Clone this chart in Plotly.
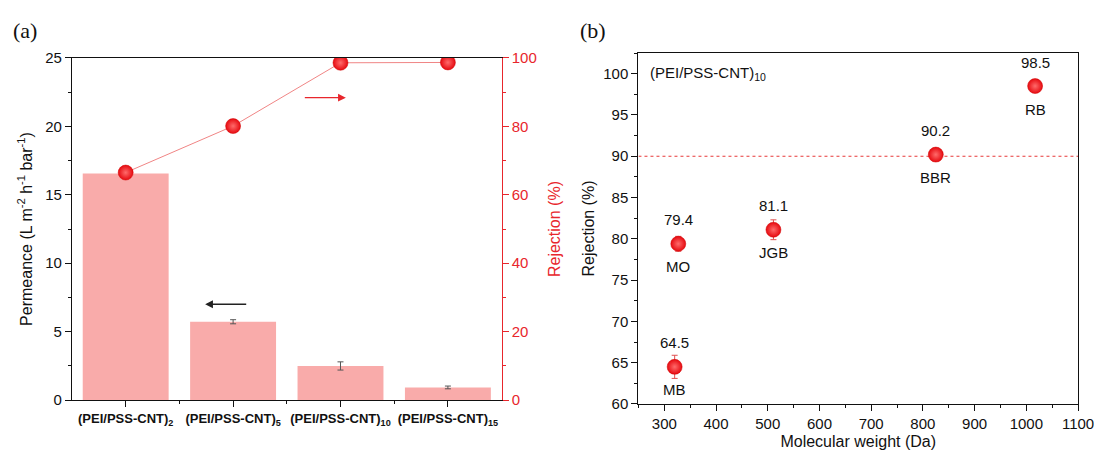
import plotly.graph_objects as go

# ---------------- data ----------------
layers = ["(PEI/PSS-CNT)<sub>2</sub>", "(PEI/PSS-CNT)<sub>5</sub>",
          "(PEI/PSS-CNT)<sub>10</sub>", "(PEI/PSS-CNT)<sub>15</sub>"]
permeance = [16.55, 5.72, 2.49, 0.92]
permeance_err = [0.35, 0.15, 0.3, 0.1]
rejection_a = [66.5, 80.1, 98.6, 98.7]
rejection_a_err = [0.8, 0.4, 0.4, 0.4]

dyes = ["MB", "MO", "JGB", "BBR", "RB"]
mol_weight = [320, 327, 511, 825, 1017]
rejection_b = [64.5, 79.4, 81.1, 90.2, 98.5]
rejection_b_err = [1.4, 0.9, 1.2, 0.5, 0.3]
threshold = 90

RED = "#E8262C"
FONT = "Liberation Sans, Arial, sans-serif"
idx = list(range(len(layers)))

marker_style = dict(size=15, color="#E60A10", line=dict(color="#D00000", width=0.5),
                    gradient=dict(type="radial", color="#FF6B6B"))

fig = go.Figure()

# ---------------- panel (a) ----------------
fig.add_trace(go.Bar(
    x=idx, y=permeance, width=0.8,
    marker=dict(color="#F9ABAA", line=dict(width=0)),
    error_y=dict(type="data", array=permeance_err, color="#555555",
                 thickness=1, width=3),
    xaxis="x", yaxis="y", showlegend=False))

fig.add_trace(go.Scatter(
    x=idx, y=rejection_a, mode="lines+markers",
    line=dict(color="#F08585", width=1),
    marker=marker_style,
    error_y=dict(type="data", array=rejection_a_err, color="#555555",
                 thickness=1, width=3),
    xaxis="x", yaxis="y2", showlegend=False))

# ---------------- panel (b) ----------------
fig.add_trace(go.Scatter(
    x=[250, 1100], y=[threshold, threshold], mode="lines",
    line=dict(color="#E83A3A", width=1.2, dash="dot"),
    xaxis="x2", yaxis="y3", showlegend=False, hoverinfo="skip"))

fig.add_trace(go.Scatter(
    x=mol_weight, y=rejection_b, mode="markers",
    marker=marker_style,
    error_y=dict(type="data", array=rejection_b_err, color="#E05050",
                 thickness=1, width=3),
    xaxis="x2", yaxis="y3", showlegend=False))

annotations = []
for mw, r, d in zip(mol_weight, rejection_b, dyes):
    annotations.append(dict(x=mw, y=r, xref="x2", yref="y3", text=f"{r:.1f}",
                            showarrow=False, yshift=24,
                            font=dict(family=FONT, size=15, color="#111")))
    annotations.append(dict(x=mw, y=r, xref="x2", yref="y3", text=d,
                            showarrow=False, yshift=-23,
                            font=dict(family=FONT, size=15, color="#111")))

# arrows in panel (a)
annotations.append(dict(x=2.05, y=22.1, ax=1.64, ay=22.1, xref="x", yref="y",
                        axref="x", ayref="y", showarrow=True, arrowhead=2,
                        arrowsize=1.2, arrowwidth=1.3, arrowcolor=RED, text=" "))
annotations.append(dict(x=0.74, y=7.0, ax=1.15, ay=7.0, xref="x", yref="y",
                        axref="x", ayref="y", showarrow=True, arrowhead=2,
                        arrowsize=1.2, arrowwidth=1.3, arrowcolor="#222", text=" "))

# panel labels and inner label
serif = dict(family="Liberation Serif, Times New Roman, serif", size=22, color="#111")
annotations.append(dict(x=0.0229, y=0.9336, xref="paper", yref="paper",
                        text="(a)", showarrow=False, xanchor="center",
                        yanchor="middle", font=serif))
annotations.append(dict(x=0.542, y=0.9336, xref="paper", yref="paper",
                        text="(b)", showarrow=False, xanchor="center",
                        yanchor="middle", font=serif))
annotations.append(dict(x=0.5923, y=0.8363, xref="paper", yref="paper",
                        text="(PEI/PSS-CNT)<sub>10</sub>", showarrow=False,
                        xanchor="left", yanchor="middle",
                        font=dict(family=FONT, size=15, color="#111")))

tickfont = dict(family=FONT, size=15, color="#111")

fig.update_layout(
    width=1094, height=452,
    margin=dict(l=0, r=0, t=0, b=0),
    paper_bgcolor="white", plot_bgcolor="white",
    annotations=annotations,
    bargap=0.2,
    xaxis=dict(domain=[0.0658, 0.4585], range=[-0.5, 3.5], automargin=False,
               tickvals=idx, tickangle=0,
               ticktext=[f"<b>{c}</b>" for c in layers],
               tickfont=dict(family=FONT, size=13, color="#111"),
               ticks="outside", ticklen=6, tickwidth=1.2, tickcolor="#111",
               minor=dict(tickvals=[0.5, 1.5, 2.5], ticks="outside", ticklen=3,
                          tickcolor="#111"),
               showline=True, linecolor="#111", linewidth=1.3, mirror=True,
               showgrid=False, zeroline=False, anchor="y"),
    yaxis=dict(domain=[0.115, 0.8717], range=[0, 25], dtick=5, automargin=False,
               tickfont=tickfont,
               ticks="outside", ticklen=6, tickwidth=1.2, tickcolor="#111",
               minor=dict(dtick=2.5, ticks="outside", ticklen=3, tickcolor="#111"),
               showline=True, linecolor="#111", linewidth=1.3,
               showgrid=False, zeroline=False, anchor="x",
               title=dict(text="Permeance (L m<sup>-2</sup> h<sup>-1</sup> bar<sup>-1</sup>)",
                          font=dict(family=FONT, size=16, color="#111"),
                          standoff=8)),
    yaxis2=dict(range=[0, 100], dtick=20, overlaying="y", side="right",
                anchor="x", automargin=False,
                tickfont=dict(family=FONT, size=15, color=RED),
                ticks="outside", ticklen=6, tickwidth=1.2, tickcolor=RED,
                minor=dict(dtick=10, ticks="outside", ticklen=3, tickcolor=RED),
                showline=True, linecolor=RED, linewidth=1.3,
                showgrid=False, zeroline=False,
                title=dict(text="Rejection (%)",
                           font=dict(family=FONT, size=16, color=RED),
                           standoff=13)),
    xaxis2=dict(domain=[0.5836, 0.9854], range=[250, 1100], dtick=100,
                tick0=0, automargin=False, ticklabeloverflow="allow",
                tickfont=tickfont,
                ticks="outside", ticklen=6, tickwidth=1.2, tickcolor="#111",
                minor=dict(dtick=50, ticks="outside", ticklen=3, tickcolor="#111"),
                showline=True, linecolor="#111", linewidth=1.3, mirror=True,
                showgrid=False, zeroline=False, anchor="y3",
                title=dict(text="Molecular weight (Da)",
                           font=dict(family=FONT, size=16, color="#111"),
                           standoff=4)),
    yaxis3=dict(domain=[0.1062, 0.8827], range=[60, 102.5], dtick=5,
                tick0=0, automargin=False,
                tickfont=tickfont,
                ticks="outside", ticklen=6, tickwidth=1.2, tickcolor="#111",
                minor=dict(dtick=2.5, ticks="outside", ticklen=3, tickcolor="#111"),
                showline=True, linecolor="#111", linewidth=1.3, mirror=True,
                showgrid=False, zeroline=False, anchor="x2",
                title=dict(text="Rejection (%)",
                           font=dict(family=FONT, size=16, color="#111"),
                           standoff=4)),
)

fig.write_html("out.html",
               config={"displayModeBar": False},
               post_script="document.body.style.margin='0';"
                           "document.body.style.overflow='hidden';")
